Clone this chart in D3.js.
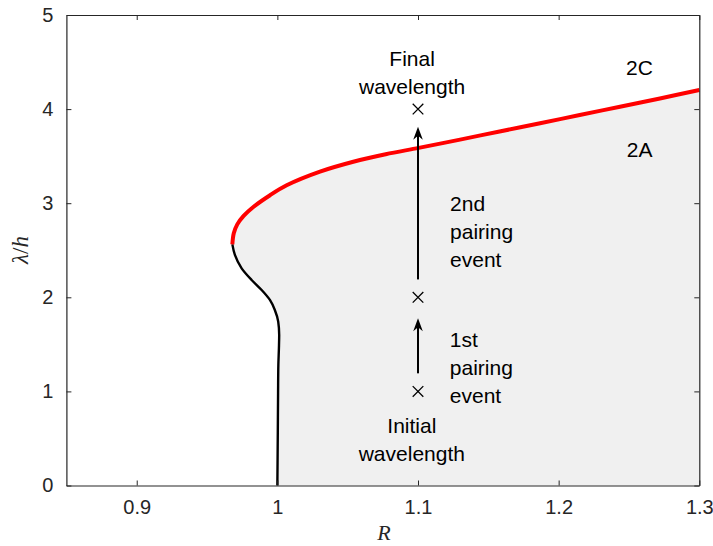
<!DOCTYPE html>
<html>
<head>
<meta charset="utf-8">
<script src="https://cdn.jsdelivr.net/npm/d3@7/dist/d3.min.js"></script>
<style>
  html, body { margin: 0; padding: 0; background: #fff; }
  svg { display: block; }
</style>
</head>
<body>
<svg id="chart" width="713" height="546"></svg>
<script>
// ---------------- data ----------------
const xTicks = [0.85, 0.9, 1.0, 1.1, 1.2, 1.3];
const xTickLabels = ["", "0.9", "1", "1.1", "1.2", "1.3"];
const yTicks = [0, 1, 2, 3, 4, 5];
const yTickLabels = ["0", "1", "2", "3", "4", "5"];

// upper (red) branch: [R, lambda/h]
const redBranch = [
  [0.9680, 2.563], [0.9690, 2.680], [0.9715, 2.775], [0.9760, 2.865],
  [0.9829, 2.960], [0.9948, 3.085], [1.0066, 3.190], [1.0303, 3.335],
  [1.0540, 3.440], [1.0770, 3.520], [1.1005, 3.588], [1.1299, 3.676],
  [1.1580, 3.762], [1.1868, 3.850], [1.2150, 3.937], [1.2436, 4.025],
  [1.2720, 4.113], [1.3000, 4.203]
];
// lower (black) branch: [R, lambda/h]
const blackBranch = [
  [0.9680, 2.563], [0.9698, 2.450], [0.9746, 2.308], [0.9817, 2.184],
  [0.9888, 2.078], [0.9947, 1.972], [0.9982, 1.865], [1.0006, 1.741],
  [1.0013, 1.599], [1.0011, 1.458], [1.0007, 1.281], [1.0005, 0.980],
  [1.0003, 0.555], [1.0000, 0.000]
];

// wavelength markers
const markerR = [1.1, 1.1, 1.1];
const markerL = [1, 2, 4];

// arrows: [R, from lambda, to lambda]
const arrows = [
  [1.1, 1.192, 1.777],
  [1.1, 2.19, 3.813]
];

// annotations: lines, anchor R, first baseline lambda, anchor
const annotations = [
  { lines: ["Final", "wavelength"], r: 1.0958, l: 4.453, anchor: "middle" },
  { lines: ["2nd", "pairing", "event"], r: 1.1228, l: 2.917, anchor: "start" },
  { lines: ["1st", "pairing", "event"], r: 1.1226, l: 1.472, anchor: "start" },
  { lines: ["Initial", "wavelength"], r: 1.0956, l: 0.558, anchor: "middle" },
  { lines: ["2C"], r: 1.2575, l: 4.362, anchor: "middle" },
  { lines: ["2A"], r: 1.2576, l: 3.491, anchor: "middle" }
];

// ---------------- layout ----------------
const svg = d3.select("#chart");
const mLeft = 66.4, mRight = 699.3, mTop = 15, mBottom = 485.5;
const x = d3.scaleLinear().domain([0.85, 1.3]).range([mLeft, mRight]);
const y = d3.scaleLinear().domain([0, 5]).range([mBottom, mTop]);
const axisColor = "#262626";
const sans = "'Liberation Sans', Arial, Helvetica, sans-serif";
const serif = "'Liberation Serif', 'Times New Roman', serif";

const redLine = d3.line().x(d => x(d[0])).y(d => y(d[1])).curve(d3.curveCatmullRom.alpha(0.5));
const blackLine = d3.line().x(d => x(d[0])).y(d => y(d[1])).curve(d3.curveMonotoneY);

// shaded region (2A): red branch, right edge, bottom, black branch back
const shade = redLine(redBranch) +
  "L" + x(1.3) + "," + y(0) + "L" + x(1.0) + "," + y(0) +
  "L" + blackLine(blackBranch.slice().reverse()).slice(1) + "Z";
svg.append("path").attr("d", shade).attr("fill", "#f0f0f0");

// curves
svg.append("path").attr("d", blackLine(blackBranch))
  .attr("fill", "none").attr("stroke", "#000").attr("stroke-width", 2.4);
svg.append("path").attr("d", redLine(redBranch))
  .attr("fill", "none").attr("stroke", "#ff0000").attr("stroke-width", 4)
  .attr("stroke-linecap", "butt");

// axes box + ticks
const g = svg.append("g");
const xAxisB = d3.axisBottom(x).tickValues(xTicks).tickSizeInner(-5).tickSizeOuter(0)
  .tickFormat((d, i) => xTickLabels[i]).tickPadding(14);
const xAxisT = d3.axisTop(x).tickValues(xTicks).tickSizeInner(-5).tickSizeOuter(0).tickFormat("");
const yAxisL = d3.axisLeft(y).tickValues(yTicks).tickSizeInner(-5).tickSizeOuter(0)
  .tickFormat((d, i) => yTickLabels[i]).tickPadding(13);
const yAxisR = d3.axisRight(y).tickValues(yTicks).tickSizeInner(-5).tickSizeOuter(0).tickFormat("");

function styleAxis(sel) {
  sel.selectAll("path.domain").attr("stroke", axisColor).attr("stroke-width", 1.2);
  sel.selectAll(".tick line").attr("stroke", axisColor).attr("stroke-width", 1);
  sel.selectAll(".tick text").attr("fill", axisColor).style("font-family", sans).style("font-size", "20px");
}
g.append("g").attr("transform", `translate(0,${mBottom})`).call(xAxisB).call(styleAxis);
g.append("g").attr("transform", `translate(0,${mTop})`).call(xAxisT).call(styleAxis);
g.append("g").attr("transform", `translate(${mLeft},0)`).call(yAxisL).call(styleAxis);
g.append("g").attr("transform", `translate(${mRight},0)`).call(yAxisR).call(styleAxis);
g.selectAll(".tick").filter(d => d === 0.85).select("line").remove();

// markers (x)
const ms = 5.3;
markerR.forEach((r, i) => {
  const cx = x(r), cy = y(markerL[i]);
  svg.append("path")
    .attr("d", `M${cx - ms},${cy - ms}L${cx + ms},${cy + ms}M${cx - ms},${cy + ms}L${cx + ms},${cy - ms}`)
    .attr("stroke", "#000").attr("stroke-width", 1.3).attr("fill", "none");
});

// arrows
arrows.forEach(a => {
  const ax = x(a[0]), y0 = y(a[1]), y1 = y(a[2]);
  svg.append("line").attr("x1", ax).attr("x2", ax).attr("y1", y0).attr("y2", y1 + 8)
    .attr("stroke", "#000").attr("stroke-width", 2);
  svg.append("path")
    .attr("d", `M${ax},${y1}L${ax - 4.8},${y1 + 13}L${ax},${y1 + 9}L${ax + 4.8},${y1 + 13}Z`)
    .attr("fill", "#000");
});

// annotations
annotations.forEach(a => {
  const t = svg.append("text")
    .attr("x", x(a.r)).attr("y", y(a.l))
    .attr("text-anchor", a.anchor)
    .style("font-family", sans).style("font-size", "21px").attr("fill", "#000");
  a.lines.forEach((ln, i) => {
    t.append("tspan").attr("x", x(a.r)).attr("dy", i === 0 ? 0 : 28).text(ln);
  });
});

// axis labels
svg.append("text").attr("x", 384).attr("y", 540).attr("text-anchor", "middle")
  .style("font-family", serif).style("font-style", "italic").style("font-size", "22px")
  .attr("fill", axisColor).text("R");
const yl = svg.append("text").attr("transform", "translate(28,250) rotate(-90)")
  .attr("text-anchor", "middle").style("font-family", serif).style("font-size", "23px")
  .attr("fill", axisColor);
yl.append("tspan").style("font-style", "italic").text("λ");
yl.append("tspan").text("/");
yl.append("tspan").style("font-style", "italic").text("h");
</script>
</body>
</html>
